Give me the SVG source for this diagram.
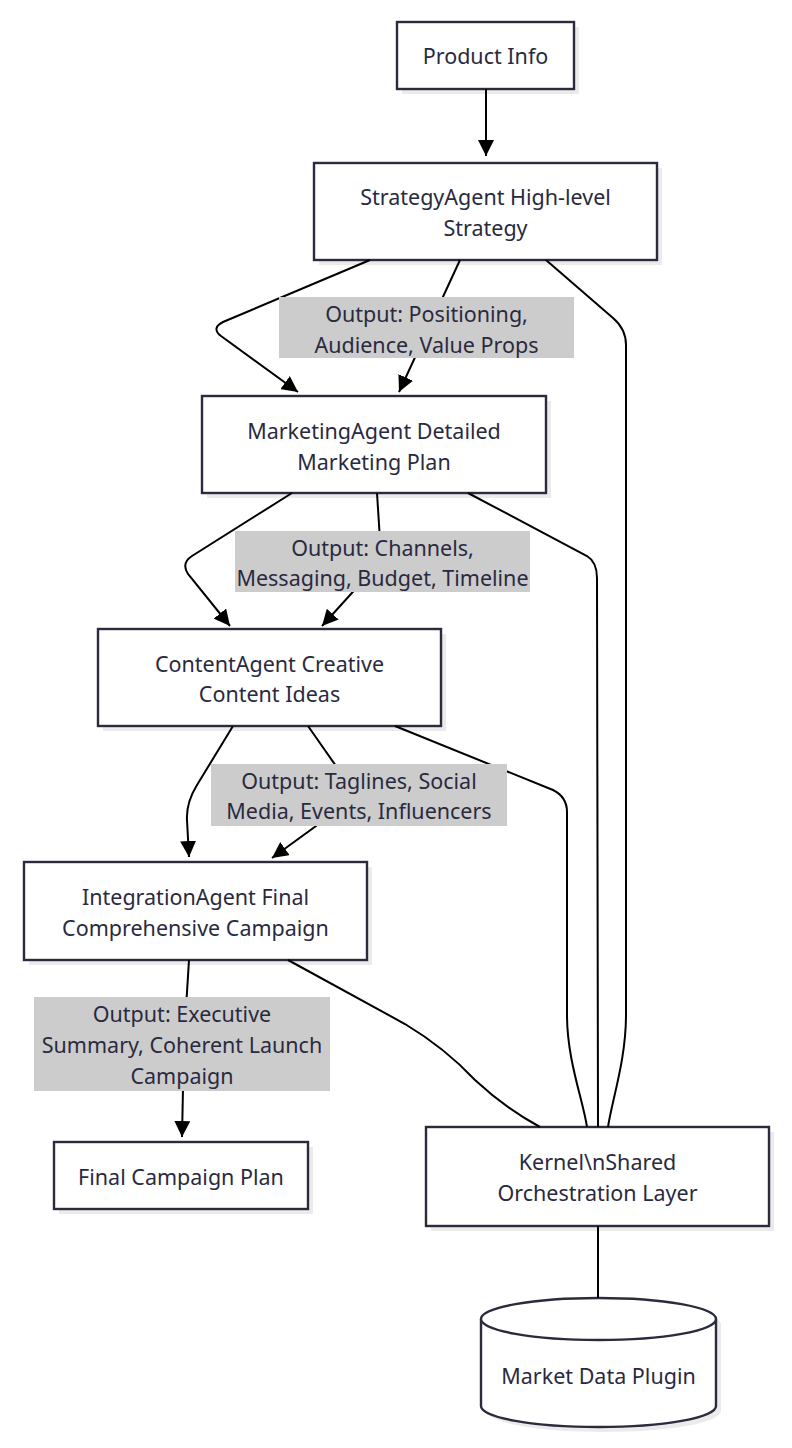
<svg xmlns="http://www.w3.org/2000/svg" width="792" height="1448" viewBox="0 0 792 1448">
<style>
  .bg{fill:#ffffff}
  .shadow{fill:#ebebeb;stroke:none}
  .node{fill:#ffffff;stroke:#2b2b3e;stroke-width:2.4}
  .lbl{fill:#cccccc;stroke:none}
  .t{font-family:"Noto Sans","Open Sans","DejaVu Sans",sans-serif;font-size:21.5px;fill:#2a2a3f;text-anchor:middle;dominant-baseline:central}
  .edge{fill:none;stroke:#000000;stroke-width:2}
</style>
<defs>
  <marker id="arrow" viewBox="0 0 10 10" refX="10" refY="5" markerWidth="8" markerHeight="8" markerUnits="strokeWidth" orient="auto">
    <path d="M0,0 L10,5 L0,10 z" fill="#000000"/>
  </marker>
</defs>
<rect class="bg" x="0" y="0" width="792" height="1448"/>

<g id="node-product-info">
  <rect class="shadow" x="402" y="27" width="177" height="67"/>
  <rect class="node" x="397" y="22" width="177" height="67"/>
  <text class="t" x="485.5" y="55.5">Product Info</text>
</g>
<g id="node-strategy-agent">
  <rect class="shadow" x="319" y="168" width="343" height="97"/>
  <rect class="node" x="314" y="163" width="343" height="97"/>
  <text class="t" x="485.5" y="196">StrategyAgent High-level</text>
  <text class="t" x="485.5" y="227">Strategy</text>
</g>
<g id="node-marketing-agent">
  <rect class="shadow" x="207" y="401" width="344" height="97"/>
  <rect class="node" x="202" y="396" width="344" height="97"/>
  <text class="t" x="374" y="430">MarketingAgent Detailed</text>
  <text class="t" x="374" y="461">Marketing Plan</text>
</g>
<g id="node-content-agent">
  <rect class="shadow" x="103" y="634" width="343" height="97"/>
  <rect class="node" x="98" y="629" width="343" height="97"/>
  <text class="t" x="269.5" y="663">ContentAgent Creative</text>
  <text class="t" x="269.5" y="693">Content Ideas</text>
</g>
<g id="node-integration-agent">
  <rect class="shadow" x="29" y="867" width="343" height="98"/>
  <rect class="node" x="24" y="862" width="343" height="98"/>
  <text class="t" x="195.5" y="896">IntegrationAgent Final</text>
  <text class="t" x="195.5" y="927">Comprehensive Campaign</text>
</g>
<g id="node-final-campaign-plan">
  <rect class="shadow" x="59" y="1147" width="254" height="67"/>
  <rect class="node" x="54" y="1142" width="254" height="67"/>
  <text class="t" x="181" y="1176">Final Campaign Plan</text>
</g>
<g id="node-kernel">
  <rect class="shadow" x="431" y="1132" width="343" height="99"/>
  <rect class="node" x="426" y="1127" width="343" height="99"/>
  <text class="t" x="597.5" y="1161">Kernel\nShared</text>
  <text class="t" x="597.5" y="1192">Orchestration Layer</text>
</g>
<g id="node-market-data-plugin">
  <path class="shadow" d="M486,1324 A117.5,21 0 0 1 721,1324 L721,1411 A117.5,21 0 0 1 486,1411 Z"/>
  <path class="node" d="M481,1319 A117.5,21 0 0 1 716,1319 L716,1406 A117.5,21 0 0 1 481,1406 Z"/>
  <path class="node" d="M481,1319 A117.5,21 0 0 0 716,1319" fill="none"/>
  <text class="t" x="598.5" y="1375">Market Data Plugin</text>
</g>

<g id="connectors">
  <path class="edge" d="M486,89 L486,156" marker-end="url(#arrow)"/>
  <path class="edge" d="M370,260 L223,322 Q211,328 221,336 L298,392" marker-end="url(#arrow)"/>
  <path class="edge" d="M460,260 L399,392" marker-end="url(#arrow)"/>
  <path class="edge" d="M546,260 L613,318 Q626,329 626,345 L626,1015 C626,1060 612,1100 608,1127"/>
  <path class="edge" d="M292,493 L192,556 Q181,563 188,574 L230,626" marker-end="url(#arrow)"/>
  <path class="edge" d="M377,493 L380,540 Q381,562 360,584 L322,626" marker-end="url(#arrow)"/>
  <path class="edge" d="M468,493 L587,556 Q597,562 597,578 L598,1127"/>
  <path class="edge" d="M233,726 L197,785 Q186,803 187,820 L189,857" marker-end="url(#arrow)"/>
  <path class="edge" d="M308,726 L336,766 Q346,792 316,826 L272,858" marker-end="url(#arrow)"/>
  <path class="edge" d="M395,726 L553,790 Q567,797 567,812 L567,1015 C567,1060 583,1100 587,1127"/>
  <path class="edge" d="M189,960 L184,1040 L182,1137" marker-end="url(#arrow)"/>
  <path class="edge" d="M288,960 L405,1024 Q445,1048 475,1080 Q505,1108 540,1127"/>
  <path class="edge" d="M598,1226 L598,1298"/>
</g>

<g id="edge-labels">
  <g id="label-strategy-marketing">
    <rect class="lbl" x="279" y="297" width="295" height="61"/>
    <text class="t" x="426.5" y="313">Output: Positioning,</text>
    <text class="t" x="426.5" y="344">Audience, Value Props</text>
  </g>
  <g id="label-marketing-content">
    <rect class="lbl" x="235" y="531" width="295" height="61"/>
    <text class="t" x="382.5" y="547">Output: Channels,</text>
    <text class="t" x="382.5" y="577">Messaging, Budget, Timeline</text>
  </g>
  <g id="label-content-integration">
    <rect class="lbl" x="211" y="764" width="296" height="62"/>
    <text class="t" x="359" y="780">Output: Taglines, Social</text>
    <text class="t" x="359" y="810">Media, Events, Influencers</text>
  </g>
  <g id="label-integration-final">
    <rect class="lbl" x="34" y="997" width="296" height="94"/>
    <text class="t" x="182" y="1013">Output: Executive</text>
    <text class="t" x="182" y="1044">Summary, Coherent Launch</text>
    <text class="t" x="182" y="1075">Campaign</text>
  </g>
</g>
</svg>
